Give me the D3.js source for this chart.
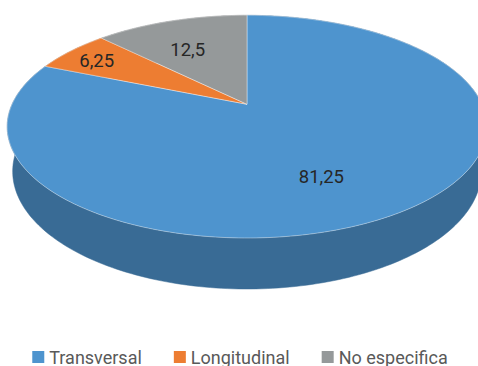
<!DOCTYPE html>
<html>
<head>
<meta charset="utf-8">
<script src="https://cdn.jsdelivr.net/npm/d3@7"></script>
<style>
  html, body { margin: 0; padding: 0; background: #fff; }
  svg { display: block; font-family: Roboto, "Noto Sans", sans-serif; }
</style>
</head>
<body>
<svg id="chart" width="478" height="366"></svg>
<script>
// data
const categories = ['Transversal', 'Longitudinal', 'No especifica']
const values = [81.25, 6.25, 12.5]
const valueLabels = ['81,25', '6,25', '12,5']

const colors = ['#4e94ce', '#ed7d32', '#95999a']

// where each label sits inside its slice: t = fraction along the arc, r = fraction of radius
const labelSpots = [{t: 0.53, r: 0.66}, {t: 0.46, r: 0.83}, {t: 0.42, r: 0.64}]

const width = 478, height = 366
const svg = d3.select('#chart')

//------------------- 3d projection ------------------------
// disk of radius R lies flat, camera tilted by alpha at distance D
const cx = 247, cy = 104.3
const D = 1, R = 0.226, H = 0.0493
const alpha = Math.asin(0.4603)
const f = 1027.4
const sa = Math.sin(alpha), ca = Math.cos(alpha)

// a = angle clockwise from 12 o'clock, rr = radius fraction, y = height (0 = top face)
const project = (a, rr, y) => {
	let X = R * rr * Math.sin(a) * 1.012
	let Z = R * rr * Math.cos(a)
	let up = Z * sa + y * ca
	let depth = D + Z * ca - y * sa
	return [cx + f * X / depth, cy - f * up / depth]
}

const pie = d3.pie().sort(null).value(d => d)
const arcs = pie(values)

const arcPoints = (a0, a1, y) => {
	let n = Math.max(4, Math.ceil((a1 - a0) / 0.02))
	return d3.range(n + 1).map(i => project(a0 + (a1 - a0) * i / n, 1, y))
}

const line = d3.line()

// side walls first, the top faces cover the back part
const sides = svg.append('g')
arcs.forEach((d, i) => {
	let top = arcPoints(d.startAngle, d.endAngle, 0)
	let bottom = arcPoints(d.startAngle, d.endAngle, -H).reverse()
	let sideColor = d3.color(colors[i]).darker(0.9)
	sides.append('path')
		.attr('d', line(top.concat(bottom)) + 'Z')
		.attr('fill', sideColor)
		.attr('stroke', sideColor)
		.attr('stroke-width', 0.5)
})

const tops = svg.append('g')
arcs.forEach((d, i) => {
	let pts = [project(0, 0, 0)].concat(arcPoints(d.startAngle, d.endAngle, 0))
	tops.append('path')
		.attr('d', line(pts) + 'Z')
		.attr('fill', colors[i])
		.attr('stroke', 'rgba(255,255,255,0.55)')
		.attr('stroke-width', 0.7)
		.attr('stroke-linejoin', 'round')
})

// value labels
const labels = svg.append('g')
arcs.forEach((d, i) => {
	let spot = labelSpots[i]
	let a = d.startAngle + (d.endAngle - d.startAngle) * spot.t
	let p = project(a, spot.r, 0)
	labels.append('text')
		.attr('x', p[0])
		.attr('y', p[1])
		.attr('dy', '0.35em')
		.attr('text-anchor', 'middle')
		.attr('font-size', 18.5)
		.attr('fill', '#262626')
		.text(valueLabels[i])
})

//------------------- legend ------------------------
const legend = svg.append('g')
const sw = 12, gapText = 5, gapItem = 32, fs = 18
let items = categories.map((c, i) => {
	let g = legend.append('g')
	g.append('rect').attr('width', sw).attr('height', sw).attr('y', -sw - 0.5).attr('fill', colors[i])
	let t = g.append('text')
		.attr('x', sw + gapText)
		.attr('font-size', fs)
		.attr('fill', '#595959')
		.text(c)
	return {g: g, w: sw + gapText + t.node().getComputedTextLength()}
})
let total = d3.sum(items, d => d.w) + gapItem * (items.length - 1)
let lx = 240 - total / 2
items.forEach(it => {
	it.g.attr('transform', `translate(${lx},363.5)`)
	lx += it.w + gapItem
})
</script>
</body>
</html>
